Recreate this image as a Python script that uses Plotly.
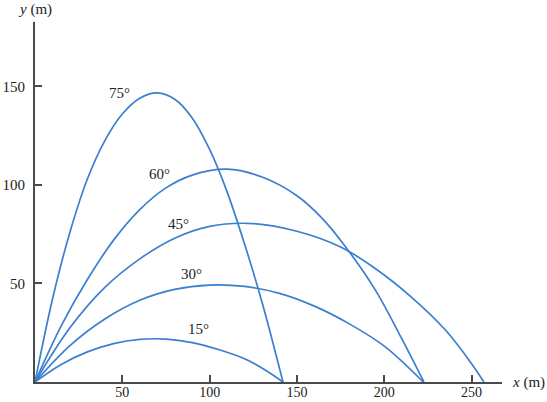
import plotly.graph_objects as go

# Trajectory points (x in m, y in m)
x15 = [0, 15, 30, 45, 60, 75, 90, 105, 120, 132, 142]
y15 = [0, 8.9, 15.3, 19.5, 21.6, 21.8, 20.0, 16.5, 11.8, 6.0, 0]

x30 = [0, 20, 40, 60, 80, 100, 120, 140, 160, 180, 200, 222.3]
y30 = [0, 18.5, 32, 41.5, 47, 49.2, 48.5, 45, 38.5, 29.5, 18.2, 0]

x45 = [0, 20, 40, 60, 80, 100, 125, 150, 175, 195, 215, 235, 250, 257]
y45 = [0, 27.5, 48, 62.5, 73, 79, 80.4, 76.5, 68.5, 57.5, 43.5, 26.4, 9.3, 0]

x60 = [0, 15, 30, 45, 60, 75, 90, 110, 130, 150, 165, 180, 195, 210, 222.7]
y60 = [0, 28.5, 52, 72, 87.5, 98.5, 105, 108, 104, 94.5, 82.5, 66, 46.5, 22, 0]

x75 = [0, 10, 20, 30, 40, 50, 60, 70, 80, 90, 100, 110, 120, 130, 142]
y75 = [0, 42, 76, 103, 122.5, 136, 144, 146.7, 143.5, 134, 118, 96.5, 70, 40.5, 0]

angle_labels = ["15°", "30°", "45°", "60°", "75°"]
label_x = [93.6, 89.5, 82.3, 71.4, 48.2]
label_y = [26.8, 54.7, 80.0, 105.4, 146.5]

x_ticks = [50, 100, 150, 200, 250]
y_ticks = [50, 100, 150]

FONT = "Liberation Serif"
BLUE = "#3a7fd0"
AXIS = "#4a4a4a"

fig = go.Figure()
for xs, ys in [(x15, y15), (x30, y30), (x45, y45), (x60, y60), (x75, y75)]:
    fig.add_trace(go.Scatter(x=xs, y=ys, mode="lines",
                             line=dict(color=BLUE, width=1.7, shape="spline", smoothing=1.0),
                             hoverinfo="skip", showlegend=False))

for t, lx, ly in zip(angle_labels, label_x, label_y):
    fig.add_annotation(x=lx, y=ly, text=t, showarrow=False,
                       font=dict(family=FONT, size=15, color="#222"),
                       xanchor="center", yanchor="middle")

fig.add_annotation(xref="paper", yref="paper", x=0.0, y=1.036,
                   text="<i>y</i> (m)", showarrow=False,
                   font=dict(family=FONT, size=15, color="#222"),
                   xanchor="center", yanchor="middle")
fig.add_annotation(xref="paper", yref="paper", x=1.056, y=0.0,
                   text="<i>x</i> (m)", showarrow=False,
                   font=dict(family=FONT, size=15, color="#222"),
                   xanchor="center", yanchor="middle")

fig.update_layout(
    width=547, height=402,
    margin=dict(l=35, r=45, t=22, b=20),
    paper_bgcolor="white", plot_bgcolor="white",
    showlegend=False,
    xaxis=dict(range=[0, 267.4], tickvals=x_ticks, ticks="inside", ticklen=7,
               tickwidth=1.5, tickcolor=AXIS, showline=True, linecolor=AXIS,
               linewidth=2, showgrid=False, zeroline=False, automargin=False,
               ticklabelstandoff=-4,
               tickfont=dict(family=FONT, size=14, color="#222")),
    yaxis=dict(range=[0, 182.7], tickvals=y_ticks, ticks="inside", ticklen=7,
               tickwidth=1.5, tickcolor=AXIS, showline=True, linecolor=AXIS,
               linewidth=2, showgrid=False, zeroline=False, automargin=False,
               ticklabelstandoff=5,
               tickfont=dict(family=FONT, size=15, color="#222")),
)

fig.write_html("out.html",
               config={"displayModeBar": False},
               post_script="document.body.style.margin='0';document.body.style.overflow='hidden';")
